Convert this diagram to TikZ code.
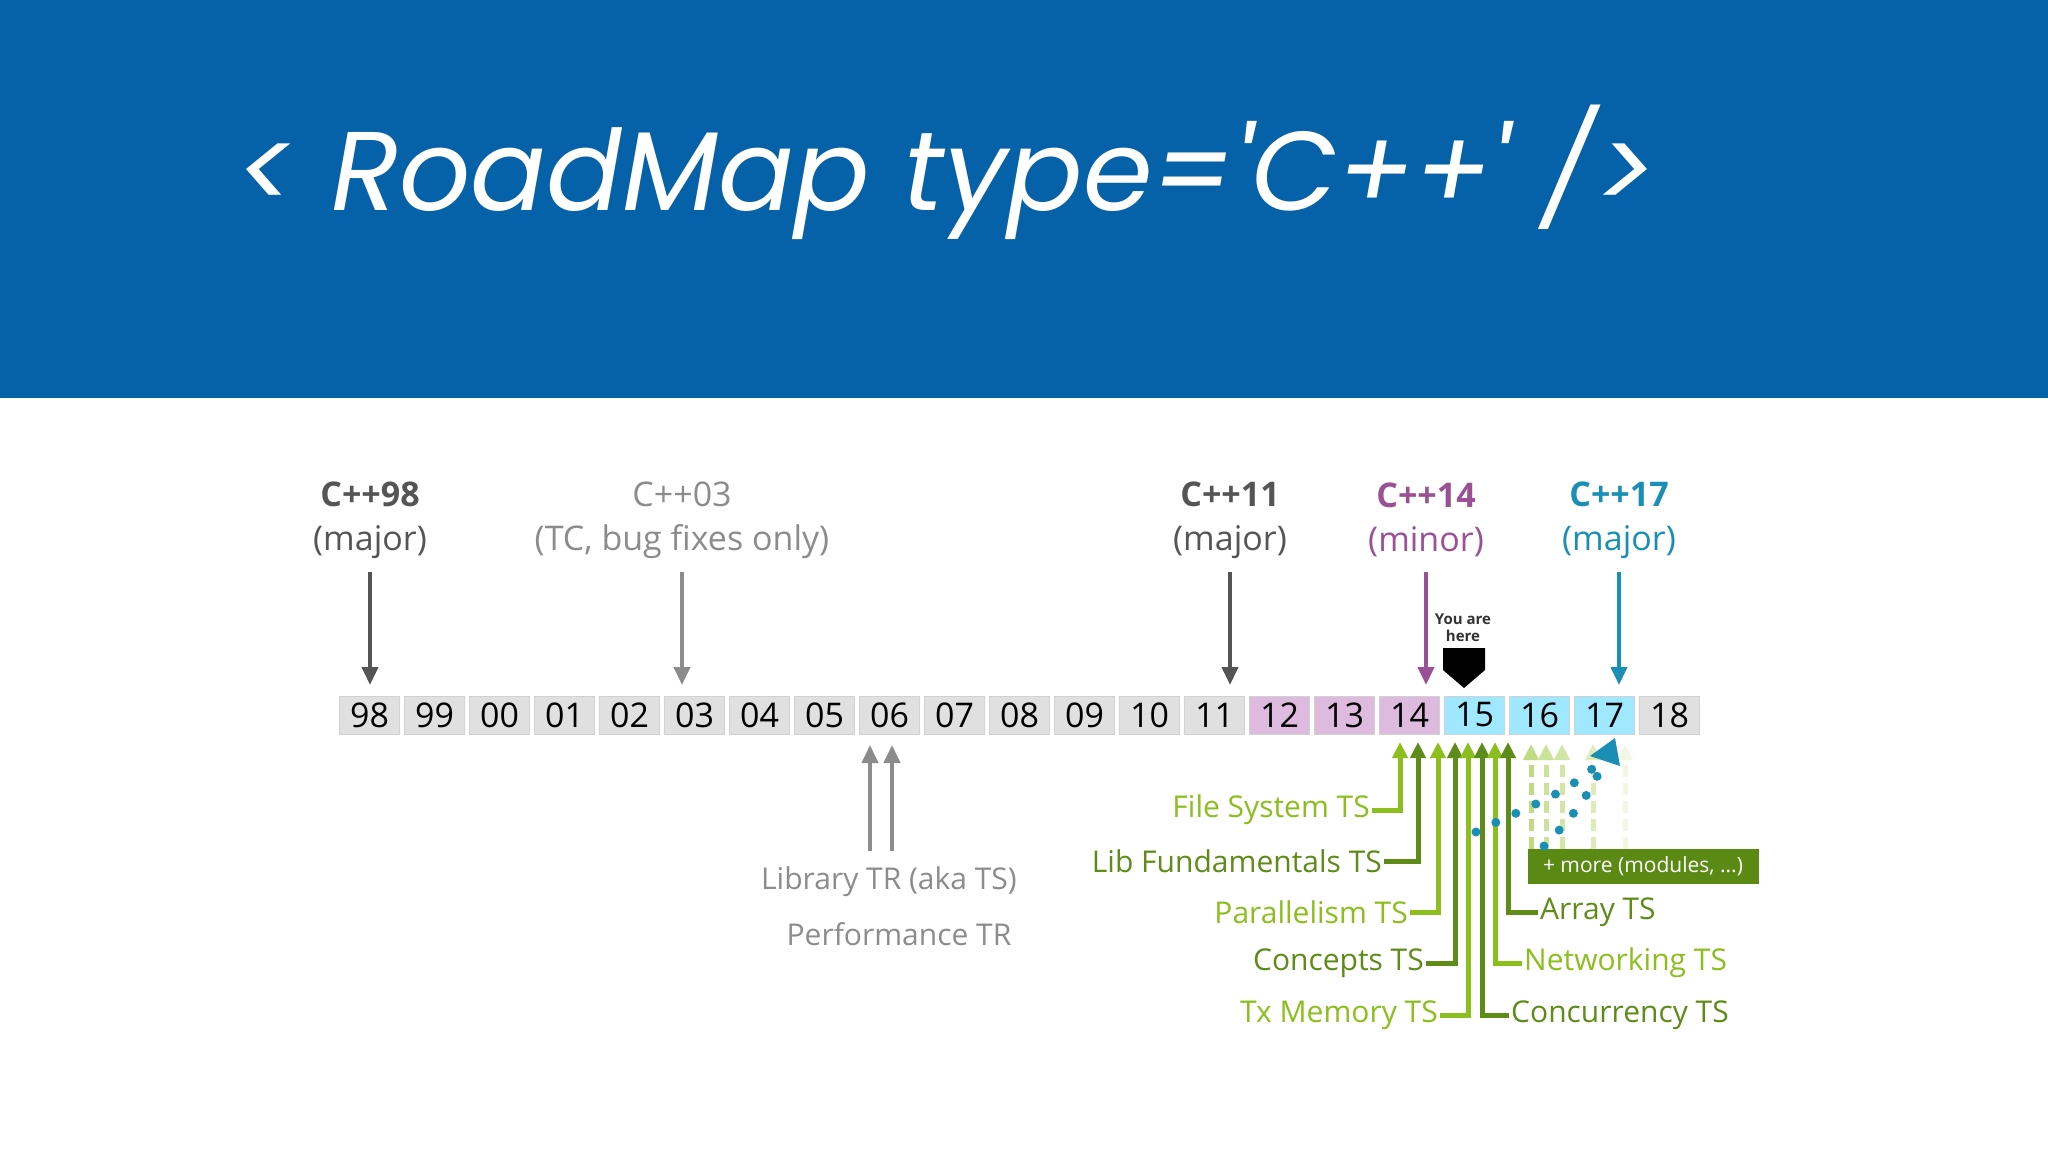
\documentclass[tikz,border=0pt]{standalone}
\usepackage{fontspec}
\setmainfont{Open Sans}
\newfontfamily\titlefont{Poppins}
\usetikzlibrary{arrows.meta,calc}
\definecolor{banner}{RGB}{5,97,168}
\definecolor{gbox}{RGB}{224,224,224}
\definecolor{pbox}{RGB}{222,186,222}
\definecolor{cbox}{RGB}{160,232,255}
\definecolor{purp}{RGB}{155,80,150}
\definecolor{teal}{RGB}{26,143,181}
\definecolor{lgreen}{RGB}{140,190,30}
\definecolor{dgreen}{RGB}{95,140,25}
\definecolor{mgreen}{RGB}{90,138,20}
\definecolor{dgrey}{RGB}{85,85,85}
\definecolor{lgrey}{RGB}{140,140,140}
\tikzset{
  yr/.style={draw=black!18,line width=1pt,minimum width=60pt,minimum height=38pt,inner sep=0pt,font=\fontsize{34}{34}\selectfont},
  vlab/.style={align=center,font=\fontsize{34}{44}\selectfont},
  varr/.style={line width=4pt,-{Triangle[length=18pt,width=16pt]}},
  tsarr/.style={line width=5pt,-{Triangle[length=16pt,width=15pt]}},
  tslab/.style={font=\fontsize{30}{30}\selectfont,inner sep=2pt},
  fade/.style={line width=5pt,dashed,dash pattern=on 12pt off 6pt,-{Triangle[length=16pt,width=15pt]}},
  dotl/.style={teal,line width=9pt,line cap=round,dash pattern=on 0pt off 22pt}
}
\begin{document}
\begin{tikzpicture}[x=1pt,y=-1pt]
\useasboundingbox (0,0) rectangle (2048,1152);
\fill[banner] (0,0) rectangle (2048,398);
\node[white,font=\titlefont\itshape\fontsize{112}{112}\selectfont,anchor=base west] (title) at (232,210) {< RoadMap type='C++' />};
% year boxes
\foreach \l [count=\i from 0] in {98,99,00,01,02,03,04,05,06,07,08,09,10,11}
  \node[yr,fill=gbox] (y\l) at ({369.6+65*\i},715) {\l};
\foreach \l [count=\i from 14] in {12,13,14}
  \node[yr,fill=pbox] (y\l) at ({369.6+65*\i},715) {\l};
\foreach \l [count=\i from 17] in {15,16,17}
  \node[yr,fill=cbox] (y\l) at ({369.6+65*\i},715) {\l};
\node[yr,fill=gbox] (y18) at ({369.6+65*20},715) {18};
% version labels
\node[vlab,dgrey] (l98) at (370,520) {\textbf{C++98}\\(major)};
\node[vlab,lgrey] (l03) at (682,520) {C++03\\(TC, bug fixes only)};
\node[vlab,dgrey] (l11) at (1230,520) {\textbf{C++11}\\(major)};
\node[vlab,purp] (l14) at (1426,520) {\textbf{C++14}\\(minor)};
\node[vlab,teal] (l17) at (1619,520) {\textbf{C++17}\\(major)};
\foreach \n/\x/\c in {98/370/dgrey,03/682/lgrey,11/1230/dgrey,14/1426/purp,17/1619/teal}{
  \coordinate (s\n) at (\x,572);
  \coordinate (e\n) at (\x,685);
  \draw[varr,\c] (s\n) -- (e\n);
}
% you are here
\node[font=\bfseries\fontsize{15}{17}\selectfont,align=center,dgrey!60!black] (yah) at (1463,628) {You are\\here};
\fill (1443,648) -- (1485,648) -- (1485,670) -- (1464,688) -- (1443,670) -- cycle;
% library TR arrows
\coordinate (lb1) at (870,851); \coordinate (lt1) at (870,745);
\coordinate (lb2) at (892,851); \coordinate (lt2) at (892,745);
\draw[varr,lgrey] (lb1) -- (lt1);
\draw[varr,lgrey] (lb2) -- (lt2);
\node[lgrey,font=\fontsize{30}{30}\selectfont] (libtr) at (889,882) {Library TR (aka TS)};
\node[lgrey,font=\fontsize{30}{30}\selectfont] (perf) at (899,934) {Performance TR};
% faded arrows
\foreach \x/\o in {1531/55,1546/45,1562/40,1593/30,1625/12}{
  \coordinate (fb\x) at (\x,849); \coordinate (ft\x) at (\x,744);
  \draw[fade,lgreen!\o!white] (fb\x) -- (ft\x);
}
% TS arrows
\foreach \k/\x in {1/1400,2/1418,3/1438,4/1455,5/1468,6/1482,7/1495,8/1508}
  \coordinate (t\k) at (\x,742);
\node[tslab,lgreen,anchor=east] (fs) at (1372,810) {File System TS};
\node[tslab,dgreen,anchor=east] (lf) at (1384,861) {Lib Fundamentals TS};
\node[tslab,lgreen,anchor=east] (par) at (1410,912) {Parallelism TS};
\node[tslab,dgreen,anchor=east] (con) at (1426,963) {Concepts TS};
\node[tslab,lgreen,anchor=east] (tx) at (1440,1015) {Tx Memory TS};
\node[tslab,dgreen,anchor=west] (arr) at (1538,912) {Array TS};
\node[tslab,lgreen,anchor=west] (net) at (1522,963) {Networking TS};
\node[tslab,dgreen,anchor=west] (conc) at (1509,1015) {Concurrency TS};
\draw[tsarr,lgreen] (fs.east) -| (t1);
\draw[tsarr,dgreen] (lf.east) -| (t2);
\draw[tsarr,lgreen] (par.east) -| (t3);
\draw[tsarr,dgreen] (con.east) -| (t4);
\draw[tsarr,lgreen] (tx.east) -| (t5);
\draw[tsarr,dgreen] (conc.west) -| (t6);
\draw[tsarr,lgreen] (net.west) -| (t7);
\draw[tsarr,dgreen] (arr.west) -| (t8);
% more box
\node[fill=mgreen,text=white,font=\fontsize{21}{21}\selectfont,minimum width=231pt,minimum height=35pt,inner sep=0pt] (more) at (1643,866) {+ more (modules, ...)};
% dotted trails
\coordinate (d1) at (1476,832); \coordinate (d2) at (1544,846); \coordinate (dh) at (1607,752);
\draw[dotl] (d1) .. controls (1530,805) and (1580,790) .. (dh);
\draw[dotl] (d2) .. controls (1570,820) and (1595,790) .. (dh);
\fill[teal] (1615,738) -- (1590,756) -- (1620,766) -- cycle;
\end{tikzpicture}
\end{document}
